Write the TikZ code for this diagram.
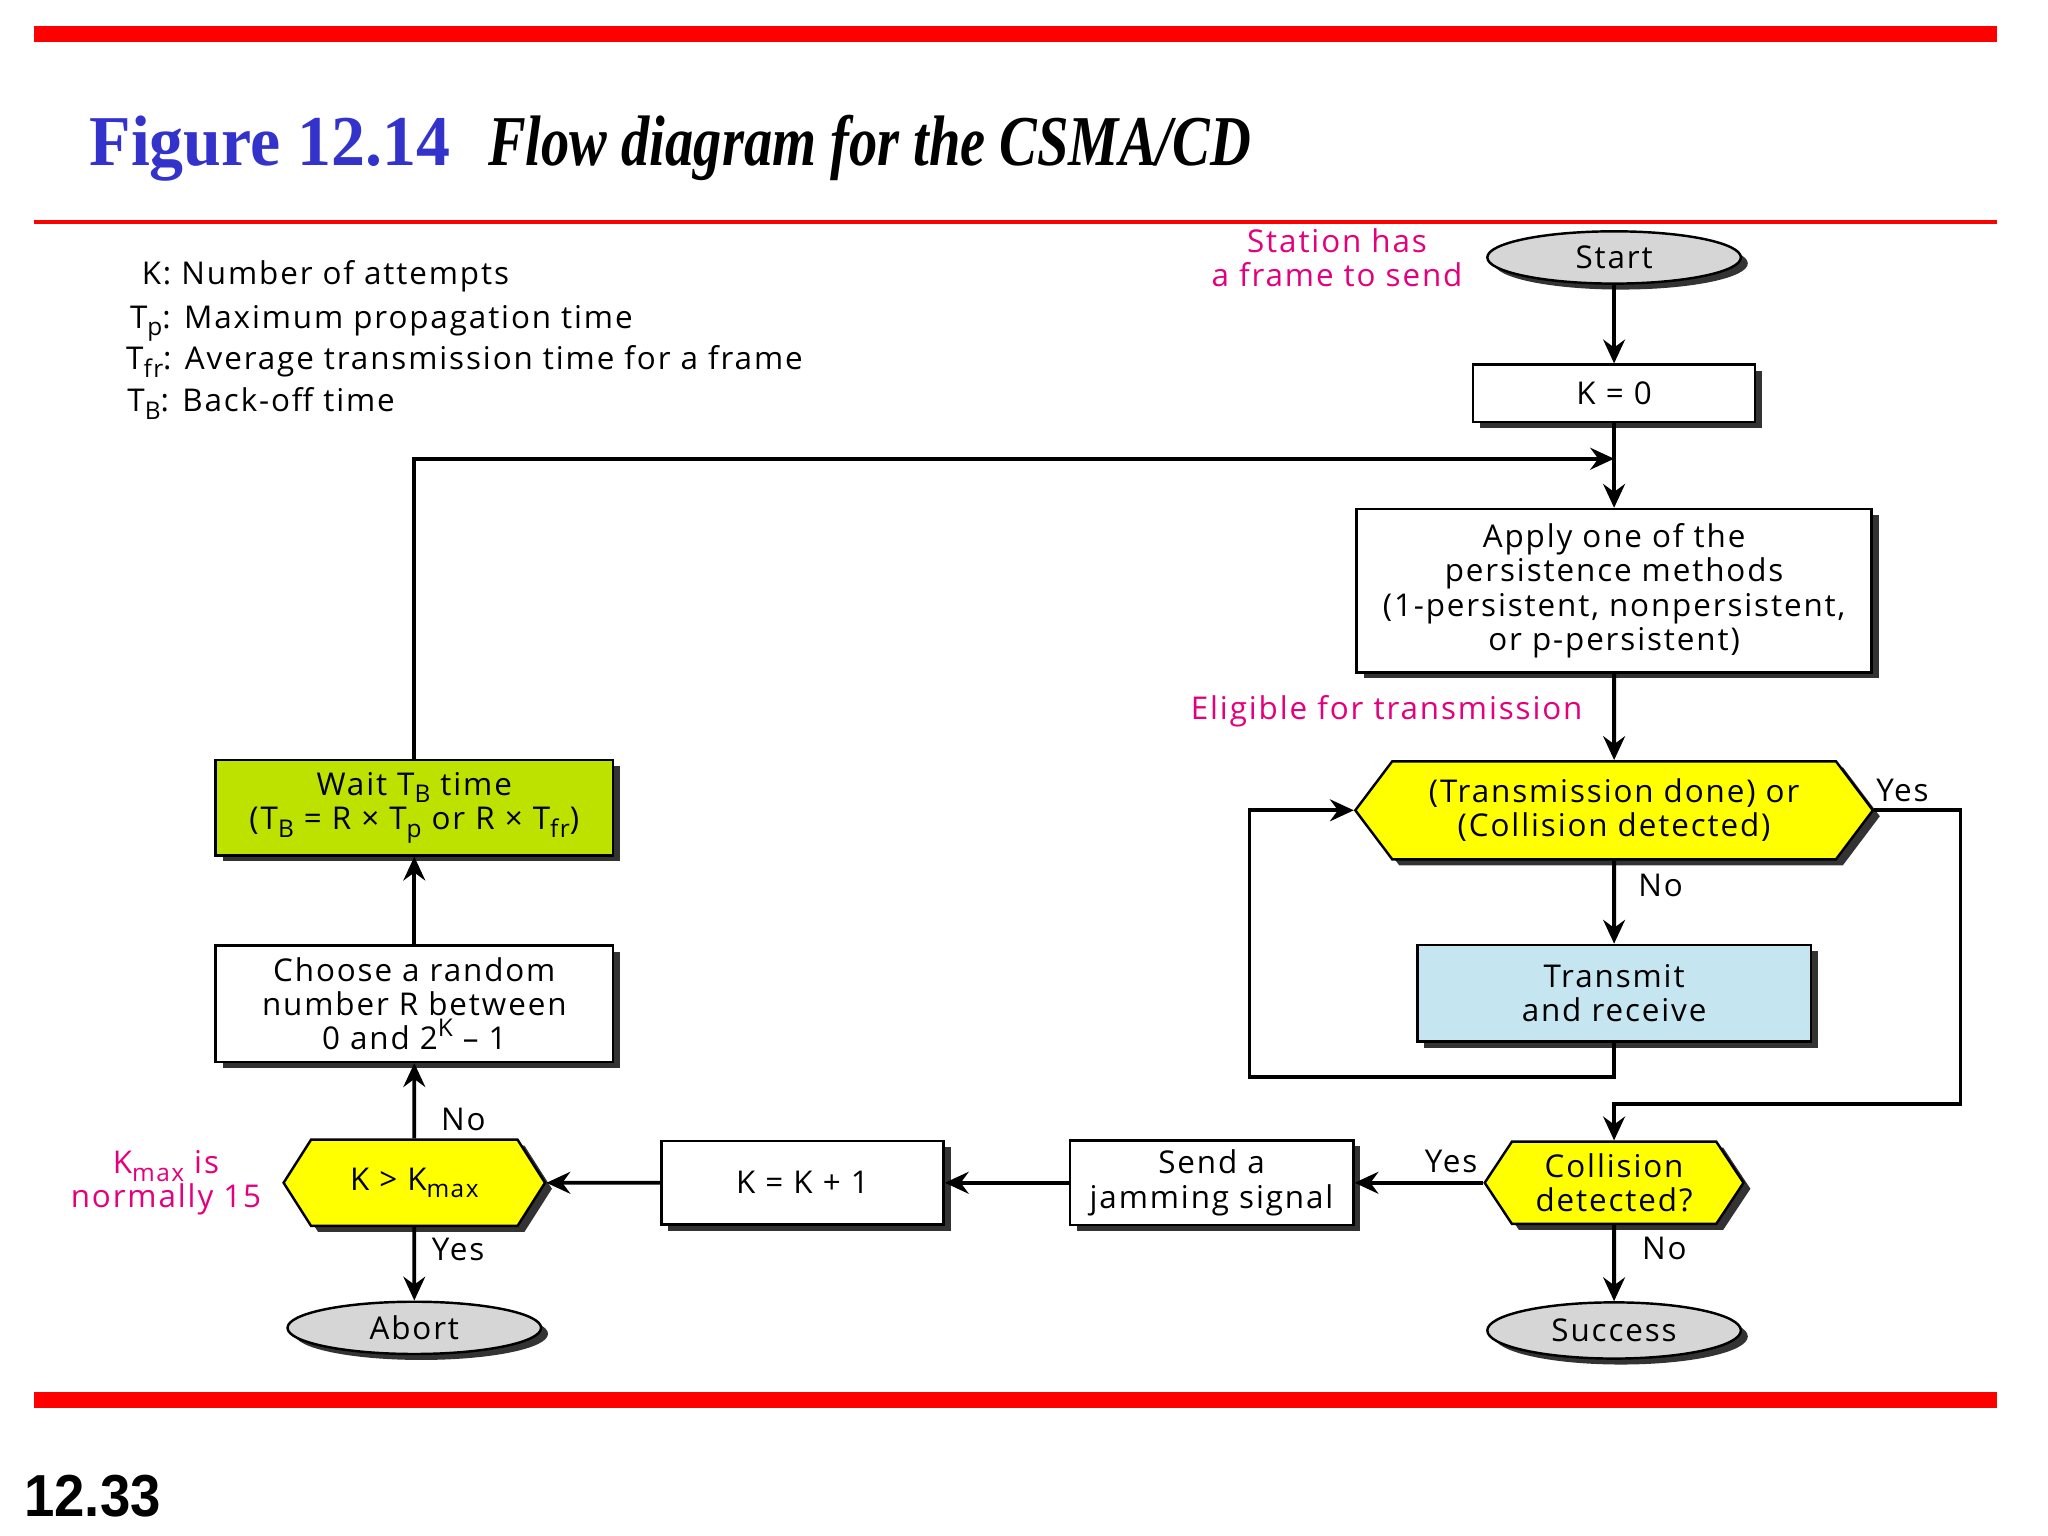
\documentclass[tikz,border=0pt]{standalone}
\usepackage{fontspec}
\setmainfont{Open Sans}[LetterSpace=6]
\newfontfamily\titlefont{Liberation Serif}
\newfontfamily\pagefont{Liberation Sans}
\usetikzlibrary{shapes.geometric}
\usetikzlibrary{shapes.symbols}
\usetikzlibrary{shadows}
\usetikzlibrary{arrows.meta}
\usetikzlibrary{calc}
\definecolor{redline}{RGB}{255,0,0}
\definecolor{notepink}{RGB}{228,0,124}
\definecolor{figblue}{RGB}{51,51,204}
\definecolor{waitgreen}{RGB}{190,226,0}
\definecolor{txblue}{RGB}{197,230,240}
\definecolor{termgray}{RGB}{214,214,214}
\definecolor{decyellow}{RGB}{255,255,0}
\newcommand{\px}{0.1317mm}
\newcommand{\lo}[1]{\raisebox{-0.45ex}{\fontsize{7}{7}\selectfont #1}}
\newcommand{\hi}[1]{\raisebox{0.8ex}{\fontsize{7}{7}\selectfont #1}}

\begin{document}
\begin{tikzpicture}[x=0.1317mm,y=-0.1317mm,
  every node/.style={font=\fontsize{9}{9.8}\selectfont},
  shadowed/.style={drop shadow={shadow xshift=0.7mm,shadow yshift=-0.6mm,fill=black!80,opacity=1}},
  box/.style={draw,line width=0.7pt,fill=white,shadowed,align=center,inner sep=0pt},
  term/.style={box,ellipse,fill=termgray},
  decision/.style={box,signal,signal to=west and east,fill=decyellow},
  note/.style={text=notepink,align=center},
  lbl/.style={inner sep=0pt},
  flow/.style={line width=1.1pt,-{Stealth[length=2.4mm,width=2.2mm,inset=0.8mm]}},
  wire/.style={line width=1.1pt}]
  \useasboundingbox (0,0) rectangle (1567,1175.25);

  % rules and captions
  \fill[redline] (26,20) rectangle (1528,32);
  \fill[redline] (26,168.5) rectangle (1528,171.5);
  \fill[redline] (26,1065) rectangle (1528,1077);
  \node[anchor=base west,inner sep=0pt,text=figblue,font=\titlefont\bfseries\fontsize{20.5}{20.5}\selectfont] (fignum) at (68,127) {\scalebox{0.95}[1]{Figure 12.14}};
  \node[anchor=base west,inner sep=0pt,font=\titlefont\bfseries\itshape\fontsize{20.5}{20.5}\selectfont] (figtitle) at (373,127) {\scalebox{0.79}[1]{Flow diagram for the CSMA/CD}};
  \node[anchor=base west,inner sep=0pt,font=\pagefont\bfseries\fontsize{17}{17}\selectfont] (pageno) at (18,1160) {\scalebox{0.92}[1]{12.33}};

  % legend
  \node[anchor=base west,inner sep=0pt] (keyk) at (108,218) {K: Number of attempts};
  \node[anchor=base west,inner sep=0pt] (keyp) at (99,251) {T\lo{p}: Maximum propagation time};
  \node[anchor=base west,inner sep=0pt] (keyfr) at (96,283) {T\lo{fr}: Average transmission time for a frame};
  \node[anchor=base west,inner sep=0pt] (keyb) at (97,315) {T\lo{B}: Back-off time};

  % right column
  \node[term,minimum width=194*\px,minimum height=40*\px] (start) at (1235,197) {Start};
  \node[note] (station) at (1023,197) {Station has\\a frame to send};
  \node[box,minimum width=216*\px,minimum height=44*\px] (k0) at (1235,301) {K = 0};
  \node[box,minimum width=394*\px,minimum height=125*\px] (apply) at (1235,452)
    {Apply one of the\\persistence methods\\(1-persistent, nonpersistent,\\or p-persistent)};
  \node[note] (eligible) at (1061,544) {Eligible for transmission};
  \node[decision,signal pointer angle=106,minimum width=396*\px,minimum height=75*\px] (trans) at (1235,620)
    {(Transmission done) or\\(Collision detected)};
  \node[box,fill=txblue,minimum width=301*\px,minimum height=74*\px] (txrx) at (1235,760) {Transmit\\and receive};
  \node[decision,signal pointer angle=113,minimum width=198*\px,minimum height=63*\px] (coll) at (1235,905)
    {Collision\\detected?};
  \node[term,minimum width=194*\px,minimum height=43*\px] (success) at (1235,1018) {Success};

  % bottom row and left column
  \node[box,minimum width=217*\px,minimum height=65*\px] (jam) at (927,905) {Send a\\jamming signal};
  \node[box,minimum width=216*\px,minimum height=64*\px] (kinc) at (614,905) {K = K + 1};
  \node[decision,signal pointer angle=115,minimum width=200*\px,minimum height=66*\px] (kmax) at (317,905) {K > K\lo{max}};
  \node[note] (kmaxnote) at (127,905) {K\lo{max} is\\normally 15};
  \node[term,minimum width=194*\px,minimum height=40*\px] (abort) at (317,1016) {Abort};
  \node[box,minimum width=304*\px,minimum height=89*\px] (choose) at (317,768)
    {Choose a random\\number R between\\0 and 2\hi{K} -- 1};
  \node[box,fill=waitgreen,minimum width=304*\px,minimum height=73*\px] (wait) at (317,618)
    {Wait T\lo{B} time\\(T\lo{B} = R × T\lo{p} or R × T\lo{fr})};

  \coordinate (join) at (1235,351);
  \coordinate (backL) at (956,824);
  \coordinate (yesR) at (1500,845);

  \draw[flow] (start) -- (k0);
  \draw[wire] (k0) -- (join);
  \draw[flow] (join) -- (apply);
  \draw[flow] (wait.north) |- (join);
  \draw[flow] (apply) -- (trans);
  \draw[flow] (trans) -- node[lbl,right=17*\px,pos=.3] {No} (txrx);
  \draw[flow] (txrx.south) |- (backL) |- (trans.west);
  \draw[flow] (trans.east) node[lbl,anchor=base west,yshift=7*\px] {Yes} -| (yesR) -| (coll.north);
  \draw[flow] (coll.west) -- node[lbl,above=6*\px,pos=.25] {Yes} (jam.east);
  \draw[flow] (coll) -- node[lbl,right=20*\px,pos=.3] {No} (success);
  \draw[flow] (jam) -- (kinc);
  \draw[flow] (kinc) -- (kmax);
  \draw[flow] (kmax) -- node[lbl,right=19*\px,pos=.25] {No} (choose);
  \draw[flow] (choose) -- (wait);
  \draw[flow] (kmax) -- node[lbl,right=12*\px,pos=.3] {Yes} (abort);
\end{tikzpicture}
\end{document}
